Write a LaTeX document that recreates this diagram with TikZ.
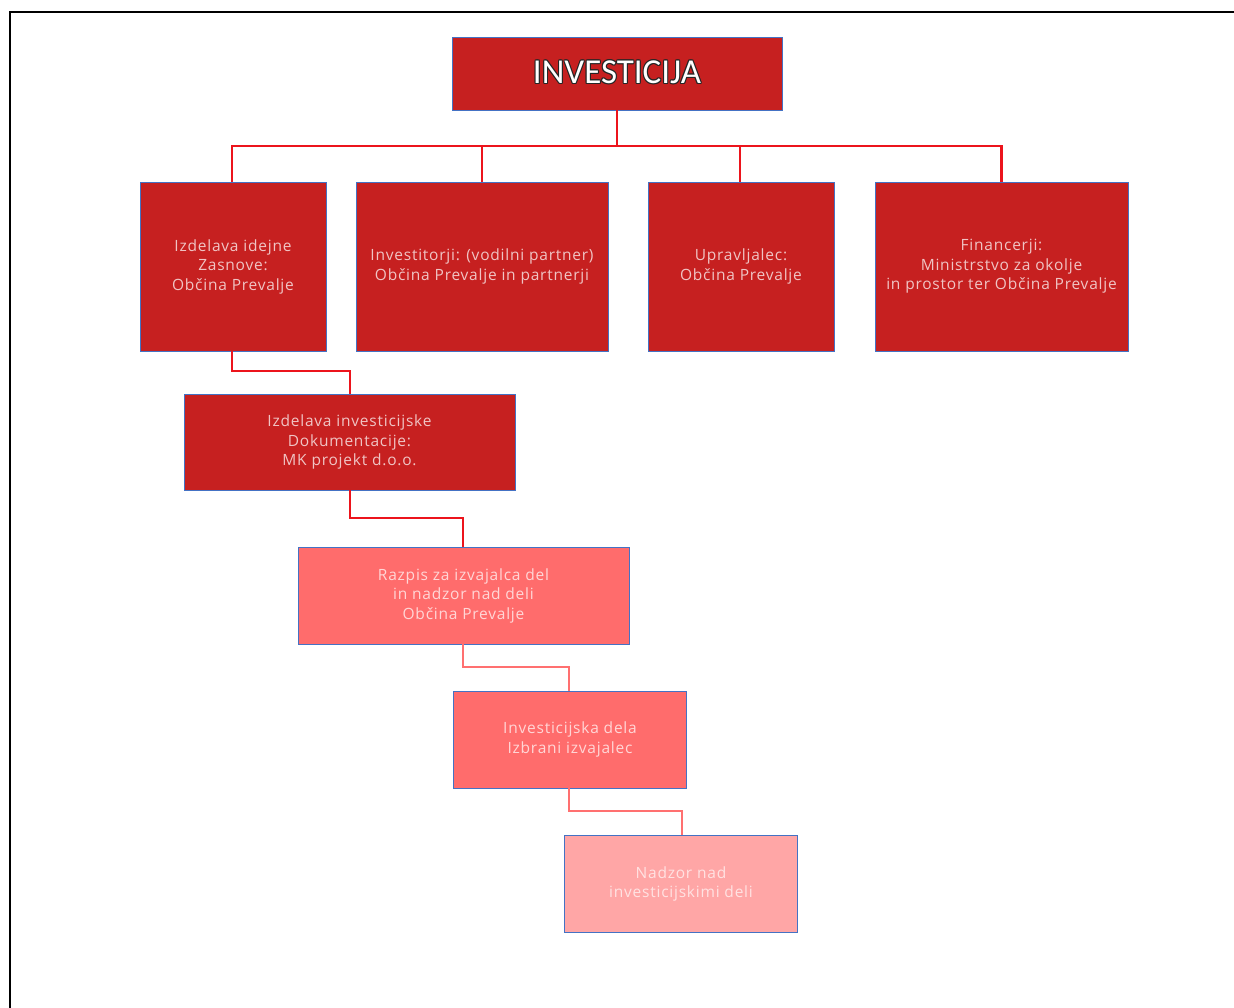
\documentclass[tikz,border=0pt]{standalone}
\usepackage{fontspec}
\setmainfont{Open Sans}[LetterSpace=5]
\newfontfamily\titlefont{Carlito}
\definecolor{darkred}{RGB}{198,32,32}
\definecolor{midred}{RGB}{255,108,108}
\definecolor{lightred}{RGB}{255,166,166}
\definecolor{edgeblue}{RGB}{68,114,196}
\definecolor{linered}{RGB}{236,20,28}
\definecolor{linelight}{RGB}{255,112,112}
\definecolor{txtdark}{RGB}{240,196,196}
\definecolor{txtmid}{RGB}{255,214,214}
\definecolor{txtlight}{RGB}{255,226,226}
\tikzset{
  box/.style={rectangle, draw=edgeblue, line width=0.8pt, inner sep=0pt, align=center,
    font=\fontsize{15.5}{19.5}\selectfont},
  dbox/.style={box, fill=darkred, text=txtdark},
  mbox/.style={box, fill=midred, text=txtmid},
  lbox/.style={box, fill=lightred, text=txtlight},
  conn/.style={draw=linered, line width=2.5pt},
  connl/.style={draw=linelight, line width=2.5pt},
  ttl/.style={font=\titlefont\fontsize{35}{40}\selectfont, inner sep=0pt}
}
\begin{document}
\begin{tikzpicture}[x=1pt,y=-1pt]
\useasboundingbox (0,0) rectangle (1234,1007);
\fill[white] (0,0) rectangle (1234,1007);
\draw[black, line width=2pt] (9.5,1010) -- (9.5,11.5) -- (1240,11.5);
% top
\node[dbox, minimum width=330pt, minimum height=73pt] (top) at (617,73.5) {};
\foreach \dx/\dy in {-1/0,1/0,0/-1,0/1,-0.8/-0.8,0.8/0.8,-0.8/0.8,0.8/-0.8}
  \node[ttl, text=black!85] (tsh) at (617+\dx,72+\dy) {INVESTICIJA};
\node[ttl, text=white] (ttext) at (617,72) {INVESTICIJA};
% level 1
\node[dbox, minimum width=186pt, minimum height=169pt] (b1) at (233,266.5) {Izdelava idejne\\Zasnove:\\Občina Prevalje};
\node[dbox, minimum width=252pt, minimum height=169pt] (b2) at (482,266.5) {Investitorji: (vodilni partner)\\Občina Prevalje in partnerji};
\node[dbox, minimum width=186pt, minimum height=169pt] (b3) at (741,266.5) {Upravljalec:\\Občina Prevalje};
\node[dbox, minimum width=253pt, minimum height=169pt] (b4) at (1001.5,266.5) {Financerji:\\Ministrstvo za okolje\\in prostor ter Občina Prevalje};
% chain
\node[dbox, minimum width=331pt, minimum height=96pt] (b5) at (349.5,442) {Izdelava investicijske\\Dokumentacije:\\MK projekt d.o.o.};
\node[mbox, minimum width=331pt, minimum height=97pt] (b6) at (463.5,595.5) {Razpis za izvajalca del\\in nadzor nad deli\\Občina Prevalje};
\node[mbox, minimum width=233pt, minimum height=97pt] (b7) at (570,739.5) {Investicijska dela\\Izbrani izvajalec};
\node[lbox, minimum width=233pt, minimum height=97pt] (b8) at (681,884) {Nadzor nad\\investicijskimi deli};
% connectors
\coordinate (bus) at (617,146);
\draw[conn] (top.south) -- (bus);
\draw[conn] (b1.north -| 232,0) |- (bus) -| (b4.north);
\draw[conn] (b2.north) -- (b2.north |- bus);
\draw[conn] (b3.north -| 740,0) -- (740,146);
\draw[conn] (b1.south -| 232,0) -- (232,371) -| (b5.north -| 350,0);
\draw[conn] (b5.south -| 350,0) -- (350,518) -| (b6.north -| 463,0);
\draw[connl] (b6.south -| 463,0) -- (463,667) -| (b7.north -| 569,0);
\draw[connl] (b7.south -| 569,0) -- (569,811) -| (b8.north -| 682,0);
\end{tikzpicture}
\end{document}
